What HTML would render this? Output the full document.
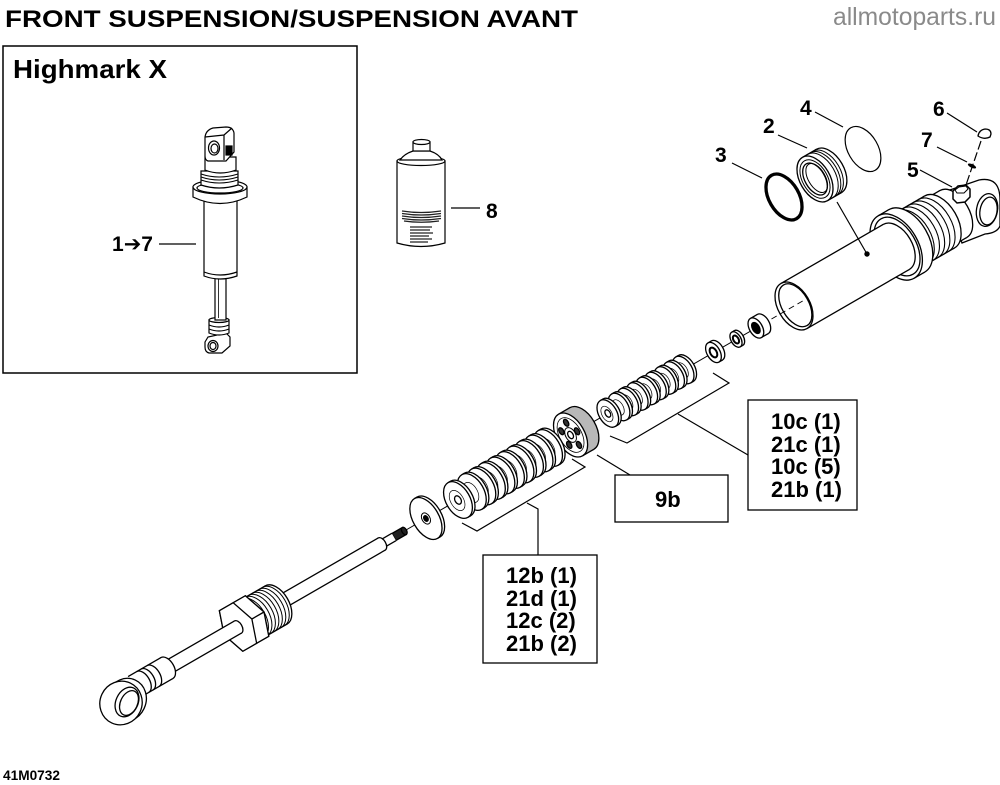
<!DOCTYPE html>
<html><head><meta charset="utf-8">
<style>
html,body{margin:0;padding:0;background:#fff;}
svg{display:block;}
text{font-family:"Liberation Sans","DejaVu Sans",sans-serif;font-weight:bold;fill:#000;}
</style></head><body>
<svg width="1000" height="785" viewBox="0 0 1000 785" xmlns="http://www.w3.org/2000/svg" xmlns:xlink="http://www.w3.org/1999/xlink">
<defs>
  <g id="ud">
    <ellipse cx="3" cy="0" rx="9" ry="15"/>
    <rect x="0" y="-15" width="3" height="30" stroke="none"/>
    <path d="M0,-15H3M0,15H3" fill="none"/>
    <ellipse cx="0" cy="0" rx="9" ry="15"/>
    <ellipse cx="-1" cy="0" rx="5" ry="8.5" fill="none" stroke-width="0.7"/>
  </g>
  <g id="ld">
    <ellipse cx="3" cy="0" rx="12" ry="20"/>
    <rect x="0" y="-20" width="3" height="40" stroke="none"/>
    <path d="M0,-20H3M0,20H3" fill="none"/>
    <ellipse cx="0" cy="0" rx="12" ry="20"/>
    <ellipse cx="-1" cy="0" rx="6.5" ry="11" fill="none" stroke-width="0.7"/>
  </g>
</defs>

<!-- Titles -->
<text x="5" y="27" font-size="24" textLength="573" lengthAdjust="spacingAndGlyphs">FRONT SUSPENSION/SUSPENSION AVANT</text>
<text x="833" y="25" font-size="25" textLength="163" lengthAdjust="spacingAndGlyphs" style="font-weight:normal;fill:#8a8a8a">allmotoparts.ru</text>
<text x="3" y="780" font-size="14" textLength="57" lengthAdjust="spacingAndGlyphs">41M0732</text>

<!-- Highmark box -->
<rect x="3" y="46" width="354" height="327" fill="none" stroke="#000" stroke-width="1.5"/>
<text x="13" y="78" font-size="26" textLength="154" lengthAdjust="spacingAndGlyphs">Highmark X</text>
<text x="112" y="251" font-size="21">1<tspan font-family="DejaVu Sans">➔</tspan>7</text>
<line x1="159" y1="244" x2="196" y2="244" stroke="#000" stroke-width="1.3"/>

<!-- small shock -->
<g fill="#fff" stroke="#000" stroke-width="1.2">
  <path d="M205,342 L208,337 L226,333 L230,337 L230,346 L222,353 L209,353 Q205,352 205,347 Z"/>
  <ellipse cx="213" cy="346" rx="5" ry="5.5"/>
  <ellipse cx="213" cy="346" rx="3" ry="3.5"/>
  <path d="M209,320 L209,333 Q219,337 229,333 L229,320 Z"/>
  <ellipse cx="219" cy="320" rx="10" ry="2.5"/>
  <path d="M209,325 Q219,329 229,325 M209,329 Q219,333 229,329" fill="none"/>
  <rect x="215" y="276" width="11" height="44"/>
  <line x1="218.5" y1="279" x2="218.5" y2="318" stroke-width="0.8"/>
  <path d="M204,200 L204,276 Q220,282 237,276 L237,200 Z"/>
  <path d="M204,272 Q220,278 237,272" fill="none"/>
  <path d="M193,187 L193,197 Q220,210 247,197 L247,187 Z"/>
  <ellipse cx="220" cy="187" rx="27" ry="7"/>
  <ellipse cx="220" cy="188" rx="23" ry="5" fill="none"/>
  <path d="M201,171 L201,185 Q219,191 238,185 L238,171 Z"/>
  <path d="M201,174 Q219,180 238,174 M201,177 Q219,183 238,177 M201,180 Q219,186 238,180" fill="none" stroke-width="1"/>
  <path d="M205,157 L205,170 Q220,176 236,170 L236,157 Z"/>
  <path d="M205,137 Q206,130 213,128 L226,127 Q233,127 234,133 L234,152 L226,161 L208,161 Q205,160 205,156 Z"/>
  <path d="M205,137 L224,135 L232,128 M224,135 L224,160" fill="none"/>
  <ellipse cx="214" cy="148" rx="5.5" ry="7"/>
  <ellipse cx="214.5" cy="148.5" rx="3.5" ry="4.5"/>
  <rect x="226" y="146" width="6" height="9" fill="#000"/>
</g>

<!-- Can (8) -->
<g fill="#fff" stroke="#000" stroke-width="1.2">
  <path d="M397,161 L397,243 Q421,250 445,243 L445,161 Z"/>
  <ellipse cx="421" cy="161" rx="24" ry="4.5"/>
  <path d="M400,160 Q404,154 413,151 L430,151 Q439,154 442,160 Z"/>
  <rect x="413" y="142" width="17" height="9"/>
  <ellipse cx="421.5" cy="142" rx="8.5" ry="2.5"/>
</g>
<g stroke="#222" stroke-width="1.3" fill="none">
  <path d="M402,211 Q421,214 441,211 M402,213.5 Q421,216.5 441,213.5 M402,216 Q421,219 441,216 M402,218.5 Q421,221.5 441,218.5 M404,221 Q421,223.5 439,221"/>
  <path d="M410,227 L432,227 M410,230 L430,230 M410,233 L433,233 M410,236 L429,236 M410,239 L432,239 M410,242 L428,242" stroke-width="1.2"/>
</g>
<line x1="451" y1="208" x2="480" y2="208" stroke="#000" stroke-width="1.3"/>
<text x="486" y="218" font-size="21">8</text>

<!-- thin axis line -->
<g transform="translate(794,306) rotate(-30)">
  <line x1="-452" y1="0" x2="-36" y2="0" stroke="#000" stroke-width="1"/>
</g>

<!-- eye boss (far end) -->
<g fill="#fff" stroke="#000" stroke-width="1.3">
  <path d="M944,192 L979,180 Q1000,176 1000,200 L1000,226 Q997,233 985,234 L962,243 Z"/>
</g>

<!-- main assembly in local axis frame -->
<g transform="translate(794,306) rotate(-30)" fill="#fff" stroke="#000" stroke-width="1.3">
  <!-- head -->
  <ellipse cx="184" cy="0" rx="16" ry="27"/>
  <rect x="168" y="-27" width="16" height="54" stroke="none"/>
  <path d="M168,-27H184M168,27H184" fill="none"/>
  <!-- threads -->
  <ellipse cx="168" cy="0" rx="18" ry="30"/>
  <rect x="130" y="-30" width="38" height="60" stroke="none"/>
  <path d="M130,-30H168M130,30H168" fill="none"/>
  <path d="M137,-30A18,30 0 0 1 137,30M143,-30A18,30 0 0 1 143,30M149,-30A18,30 0 0 1 149,30M155,-30A18,30 0 0 1 155,30M161,-30A18,30 0 0 1 161,30" fill="none" stroke-width="1.1"/>
  <!-- flange -->
  <ellipse cx="130" cy="0" rx="22" ry="36"/>
  <rect x="118" y="-36" width="12" height="72" stroke="none"/>
  <path d="M118,-36H130M118,36H130" fill="none"/>
  <ellipse cx="118" cy="0" rx="22" ry="36"/>
  <ellipse cx="119" cy="0" rx="19" ry="32" fill="none"/>
  <!-- tube -->
  <ellipse cx="118" cy="0" rx="16" ry="26"/>
  <rect x="0" y="-26" width="118" height="52" stroke="none"/>
  <path d="M0,-26H118M0,26H118" fill="none"/>
  <ellipse cx="0" cy="0" rx="16" ry="26"/>
  <ellipse cx="1.5" cy="0" rx="13.5" ry="23.5" fill="none"/>
  <line x1="-36" y1="0" x2="10" y2="0" stroke-dasharray="6 4" stroke-width="1"/>

  <!-- nut -->
  <ellipse cx="-36" cy="0" rx="6.5" ry="11"/>
  <rect x="-44" y="-11" width="8" height="22" stroke="none"/>
  <path d="M-44,-11H-36M-44,11H-36" fill="none"/>
  <ellipse cx="-44" cy="0" rx="6.5" ry="11"/>
  <ellipse cx="-44" cy="0" rx="3.5" ry="6" fill="#000"/>
  <!-- washer 1 -->
  <ellipse cx="-64" cy="0" rx="5" ry="8.5"/>
  <rect x="-67" y="-8.5" width="3" height="17" stroke="none"/>
  <path d="M-67,-8.5H-64M-67,8.5H-64" fill="none"/>
  <ellipse cx="-67" cy="0" rx="5" ry="8.5"/>
  <ellipse cx="-67" cy="0" rx="2.6" ry="4.3" stroke-width="2"/>
  <!-- washer 2 -->
  <ellipse cx="-89" cy="0" rx="6.5" ry="11"/>
  <rect x="-93" y="-11" width="4" height="22" stroke="none"/>
  <path d="M-93,-11H-89M-93,11H-89" fill="none"/>
  <ellipse cx="-93" cy="0" rx="6.5" ry="11"/>
  <ellipse cx="-93" cy="0" rx="3.2" ry="5.3" stroke-width="2"/>

  <!-- upper stack -->
  <use xlink:href="#ud" x="-128"/>
  <use xlink:href="#ud" x="-139"/>
  <use xlink:href="#ud" x="-149"/>
  <use xlink:href="#ud" x="-160"/>
  <use xlink:href="#ud" x="-170"/>
  <use xlink:href="#ud" x="-181"/>
  <use xlink:href="#ud" x="-192"/>
  <use xlink:href="#ud" x="-202"/>
  <use xlink:href="#ud" x="-215"/>
  <ellipse cx="-215" cy="0" rx="2.5" ry="4"/>

  <!-- piston -->
  <ellipse cx="-245" cy="0" rx="14" ry="24" fill="#b8b8b8"/>
  <rect x="-258" y="-24" width="13" height="48" fill="#b8b8b8" stroke="none"/>
  <path d="M-258,-24H-245M-258,24H-245" fill="none"/>
  <ellipse cx="-258" cy="0" rx="14" ry="24"/>
  <ellipse cx="-258" cy="0" rx="11" ry="19" fill="none" stroke-width="0.8"/>
  <ellipse cx="-250.5" cy="0" rx="2.2" ry="3.8" fill="#333"/>
  <ellipse cx="-255.7" cy="12.8" rx="2.2" ry="3.8" fill="#333"/>
  <ellipse cx="-264.1" cy="7.9" rx="2.2" ry="3.8" fill="#333"/>
  <ellipse cx="-264.1" cy="-7.9" rx="2.2" ry="3.8" fill="#333"/>
  <ellipse cx="-255.7" cy="-12.8" rx="2.2" ry="3.8" fill="#333"/>
  <ellipse cx="-258" cy="0" rx="5" ry="8" fill="none" stroke-width="1"/>
  <ellipse cx="-258" cy="0" rx="2.5" ry="4"/>

  <!-- lower stack -->
  <use xlink:href="#ld" x="-284"/>
  <use xlink:href="#ld" x="-295"/>
  <use xlink:href="#ld" x="-306"/>
  <use xlink:href="#ld" x="-317"/>
  <use xlink:href="#ld" x="-328"/>
  <use xlink:href="#ld" x="-339"/>
  <use xlink:href="#ld" x="-350"/>
  <use xlink:href="#ld" x="-361"/>
  <use xlink:href="#ld" x="-372"/>
  <use xlink:href="#ld" x="-388"/>
  <ellipse cx="-388" cy="0" rx="3" ry="4.5"/>

  <!-- big washer -->
  <ellipse cx="-422" cy="0" rx="13" ry="23"/>
  <rect x="-425" y="-23" width="3" height="46" stroke="none"/>
  <path d="M-425,-23H-422M-425,23H-422" fill="none"/>
  <ellipse cx="-425" cy="0" rx="13" ry="23"/>
  <ellipse cx="-425" cy="0" rx="4" ry="6" fill="none" stroke-width="1"/>
  <ellipse cx="-425" cy="0" rx="2" ry="3" fill="#000"/>

  <!-- rod tip + rod -->
  <rect x="-462" y="-4" width="12" height="8" fill="#222"/>
  <ellipse cx="-450" cy="0" rx="2.4" ry="4" fill="#222"/>
  <rect x="-477" y="-4.2" width="15" height="8.4" stroke="none"/>
  <path d="M-477,-4.2H-462M-477,4.2H-462" fill="none"/>
  <ellipse cx="-476" cy="0" rx="4" ry="7"/>
  <rect x="-630" y="-7" width="154" height="14" stroke="none"/>
  <path d="M-630,-7H-476M-630,7H-476" fill="none"/>

  <!-- gland threads -->
  <ellipse cx="-598" cy="0" rx="13" ry="22"/>
  <rect x="-628" y="-22" width="30" height="44" stroke="none"/>
  <path d="M-628,-22H-598M-628,22H-598" fill="none"/>
  <path d="M-625,-22A13,22 0 0 1 -625,22M-621,-22A13,22 0 0 1 -621,22M-617,-22A13,22 0 0 1 -617,22M-613,-22A13,22 0 0 1 -613,22M-609,-22A13,22 0 0 1 -609,22M-605,-22A13,22 0 0 1 -605,22M-601,-22A13,22 0 0 1 -601,22" fill="none" stroke-width="1"/>
  <!-- gland hex -->
  <polygon points="-612,0 -620,23.4 -636,23.4 -644,0 -636,-23.4 -620,-23.4"/>
  <polygon points="-650,-23.4 -620,-23.4 -612,0 -620,23.4 -650,23.4 -658,0"/>
  <polygon points="-626,0 -634,23.4 -650,23.4 -658,0 -650,-23.4 -634,-23.4"/>
  <line x1="-626" y1="0" x2="-612" y2="0"/>
  <!-- lower rod -->
  <ellipse cx="-642" cy="0" rx="4" ry="7"/>
  <rect x="-760" y="-7" width="118" height="14" stroke="none"/>
  <path d="M-760,-7H-642M-760,7H-642" fill="none"/>
  <!-- collar -->
  <ellipse cx="-724" cy="0" rx="7" ry="12"/>
  <rect x="-762" y="-12" width="38" height="24" stroke="none"/>
  <path d="M-762,-12H-724M-762,12H-724" fill="none"/>
  <path d="M-752,-12A7,12 0 0 1 -752,12M-747,-12A7,12 0 0 1 -747,12M-740,-12A7,12 0 0 1 -740,12" fill="none"/>
</g>

<!-- lower eye ring -->
<g fill="#fff" stroke="#000" stroke-width="1.3">
  <ellipse cx="126" cy="700" rx="20" ry="22" transform="rotate(25 126 700)"/>
  <ellipse cx="121" cy="703" rx="21" ry="22" transform="rotate(25 121 703)"/>
  <ellipse cx="127" cy="702" rx="11" ry="15.5" transform="rotate(25 127 702)"/>
  <ellipse cx="129" cy="703" rx="8.5" ry="13" transform="rotate(25 129 703)"/>
</g>

<!-- eye hole top-right -->
<g fill="#fff" stroke="#000" stroke-width="1.3">
  <ellipse cx="987" cy="210" rx="10.5" ry="16.5" transform="rotate(10 987 210)"/>
  <ellipse cx="988.5" cy="211" rx="8.5" ry="14" transform="rotate(10 988.5 211)"/>
  <!-- bolt 5 -->
  <polygon points="953,191 958,186 966,185 970,189 970,197 965,202 957,203 953,199" stroke-width="1.5"/>
  <polygon points="955,190 959,187 966,186 968,189 964,193 957,193" fill="none" stroke-width="1"/>
  <!-- screw 6 -->
  <path d="M978,136 Q979,130 985,129 Q991,129 991,134 L990,137 Q984,140 978,136 Z"/>
</g>
<line x1="981" y1="141" x2="966" y2="185" stroke="#000" stroke-width="1.2" stroke-dasharray="9 3"/>
<ellipse cx="972" cy="166" rx="4.5" ry="1.8" transform="rotate(25 972 166)" fill="#000"/>

<!-- seal head 2 -->
<g transform="translate(815,179) rotate(-30)" fill="#fff" stroke="#000" stroke-width="1.3">
  <ellipse cx="16" cy="0" rx="15" ry="25"/>
  <rect x="0" y="-25" width="16" height="50" stroke="none"/>
  <path d="M0,-25H16M0,25H16" fill="none"/>
  <path d="M6,-25A15,25 0 0 1 6,25M9,-25A15,25 0 0 1 9,25M12,-25A15,25 0 0 1 12,25" fill="none" stroke-width="1"/>
  <ellipse cx="0" cy="0" rx="15" ry="25"/>
  <ellipse cx="0" cy="0" rx="12.5" ry="21" fill="none" stroke-width="1"/>
  <ellipse cx="0" cy="0" rx="10" ry="17.5"/>
  <ellipse cx="2" cy="0" rx="8.5" ry="16" fill="none" stroke-width="1"/>
</g>
<!-- O-ring 3 -->
<ellipse cx="0" cy="0" rx="15" ry="25" transform="translate(784,197) rotate(-30)" fill="none" stroke="#000" stroke-width="3.3"/>
<!-- ring 4 -->
<ellipse cx="0" cy="0" rx="15" ry="24.5" transform="translate(863,149) rotate(-30)" fill="none" stroke="#000" stroke-width="1.2"/>

<!-- dot + leader to tube -->
<line x1="837" y1="202" x2="867" y2="254" stroke="#000" stroke-width="1.2"/>
<circle cx="867" cy="254" r="2.7" fill="#000"/>

<!-- callout leaders -->
<g stroke="#000" stroke-width="1.2" fill="none">
  <line x1="815" y1="112" x2="843" y2="127"/>
  <line x1="778" y1="135" x2="807" y2="148"/>
  <line x1="732" y1="163" x2="762" y2="178"/>
  <line x1="947" y1="113" x2="977" y2="132"/>
  <line x1="937" y1="147" x2="967" y2="162"/>
  <line x1="920" y1="170" x2="952" y2="187"/>
  <!-- brackets -->
  <polyline points="713,373 729,383 627,443 610,436"/>
  <line x1="678" y1="414" x2="748" y2="455"/>
  <line x1="597" y1="455" x2="630" y2="475"/>
  <polyline points="572,459 585,467 477,531 462,523"/>
  <polyline points="527,503 538,509 538,555"/>
</g>
<text x="933" y="116" font-size="21">6</text>
<text x="921" y="147" font-size="21">7</text>
<text x="907" y="177" font-size="21">5</text>
<text x="800" y="115" font-size="21">4</text>
<text x="763" y="133" font-size="21">2</text>
<text x="715" y="162" font-size="21">3</text>

<!-- boxes -->
<g fill="none" stroke="#000" stroke-width="1.3">
  <rect x="748" y="400" width="109" height="110"/>
  <rect x="615" y="475" width="113" height="47"/>
  <rect x="483" y="555" width="114" height="108"/>
</g>
<text x="771" y="429" font-size="22">10c (1)</text>
<text x="771" y="452" font-size="22">21c (1)</text>
<text x="771" y="474" font-size="22">10c (5)</text>
<text x="771" y="497" font-size="22">21b (1)</text>
<text x="655" y="507" font-size="22">9b</text>
<text x="506" y="583" font-size="22">12b (1)</text>
<text x="506" y="606" font-size="22">21d (1)</text>
<text x="506" y="628" font-size="22">12c (2)</text>
<text x="506" y="651" font-size="22">21b (2)</text>
</svg>
</body></html>
